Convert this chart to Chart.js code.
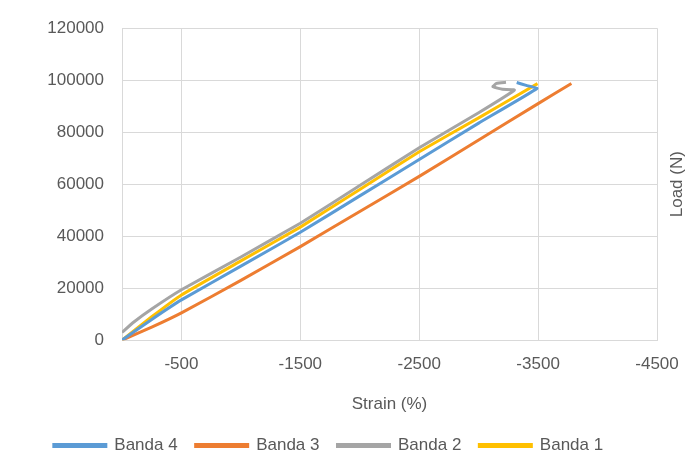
<!DOCTYPE html>
<html>
<head>
<meta charset="utf-8">
<script src="https://cdn.jsdelivr.net/npm/chart.js@4"></script>
<style>
  body { margin: 0; background: #fff; }
  #wrap { width: 696px; height: 472px; }
</style>
</head>
<body>
<div id="wrap"><canvas id="chart"></canvas></div>
<script>
'use strict';
// strain (x) and load (y) per series
const banda4X = [0, -250, -500, -1000, -1500, -2000, -2500, -3000, -3490, -3400, -3320];
const banda4Y = [0, 8000, 15500, 28500, 41500, 55500, 69500, 83500, 96800, 98000, 99100];
const banda3X = [0, -250, -500, -1000, -1500, -2000, -2500, -3000, -3500, -3780];
const banda3Y = [0, 5000, 10500, 23000, 36000, 49500, 63000, 77000, 91000, 98700];
const banda2X = [0, -100, -250, -500, -1000, -1500, -2000, -2500, -3000, -3300, -3200, -3120, -3150, -3230];
const banda2Y = [3000, 7000, 12000, 19400, 32000, 45000, 59500, 74000, 87500, 96200, 96500, 97500, 98800, 99200];
const banda1X = [0, -250, -500, -1000, -1500, -2000, -2500, -3000, -3495];
const banda1Y = [0, 9000, 17400, 30500, 43500, 58000, 72500, 85500, 98700];
const xTicks = [-500, -1500, -2500, -3500, -4500];

function toPoints(xs, ys) {
    let pts = [];
    for (let i = 0; i < xs.length; i++)
        pts.push({ x: xs[i], y: ys[i] });
    return pts;
}

function series(label, xs, ys, color) {
    return {
        label: label,
        data: toPoints(xs, ys),
        borderColor: color,
        backgroundColor: color,
        borderWidth: 3,
        pointRadius: 0,
        showLine: true,
        tension: 0.1
    };
}

const gridColor = '#d9d9d9';
const textColor = '#595959';
Chart.defaults.font.family = 'Liberation Sans, Arial, sans-serif';
Chart.defaults.font.size = 17;
Chart.defaults.color = textColor;

// "Load (N)" title on the right, reading bottom to top
const rightTitle = {
    id: 'rightTitle',
    afterDraw(chart) {
        let ctx = chart.ctx;
        let area = chart.chartArea;
        ctx.save();
        ctx.translate(area.right + 20, (area.top + area.bottom) / 2);
        ctx.rotate(-Math.PI / 2);
        ctx.font = '17px Liberation Sans, Arial, sans-serif';
        ctx.fillStyle = textColor;
        ctx.textAlign = 'center';
        ctx.textBaseline = 'middle';
        ctx.fillText('Load (N)', 0, 0);
        ctx.restore();
    }
};

new Chart(document.getElementById('chart'), {
    type: 'scatter',
    data: {
        datasets: [
            series('Banda 4', banda4X, banda4Y, '#5B9BD5'),
            series('Banda 3', banda3X, banda3Y, '#ED7D31'),
            series('Banda 2', banda2X, banda2Y, '#A5A5A5'),
            series('Banda 1', banda1X, banda1Y, '#FFC000')
        ]
    },
    plugins: [rightTitle],
    options: {
        responsive: true,
        maintainAspectRatio: false,
        animation: false,
        layout: { padding: { left: 0, right: 39, top: 16, bottom: 8 } },
        plugins: {
            legend: {
                position: 'bottom',
                labels: { boxWidth: 52, boxHeight: 2, padding: 18, color: textColor }
            },
            tooltip: { enabled: false }
        },
        scales: {
            x: {
                type: 'linear',
                reverse: true,
                min: -4500,
                max: 0,
                afterBuildTicks: axis => { axis.ticks = xTicks.map(v => ({ value: v })); },
                grid: { color: gridColor, drawTicks: false },
                border: { color: gridColor },
                ticks: { padding: 14, callback: v => String(v) },
                title: { display: true, text: 'Strain (%)', font: { size: 17 }, padding: { top: 6 } }
            },
            y: {
                min: 0,
                max: 120000,
                afterFit: axis => { axis.width = 122; },
                ticks: { stepSize: 20000, padding: 18, callback: v => String(v) },
                grid: { color: gridColor, drawTicks: false },
                border: { color: gridColor }
            }
        }
    }
});
</script>
</body>
</html>
